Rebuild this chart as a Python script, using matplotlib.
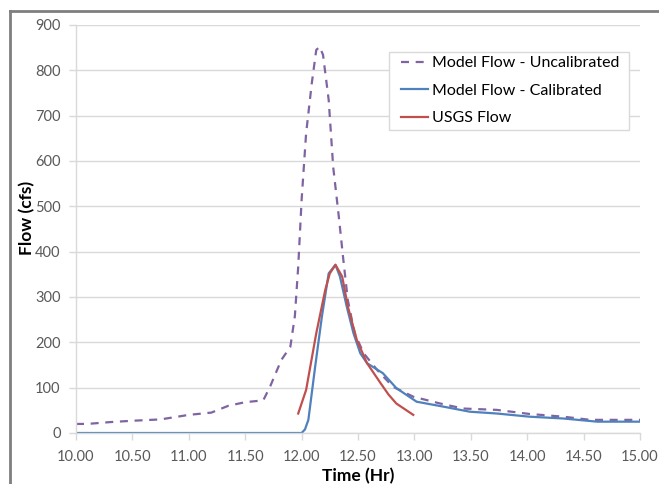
import numpy as np
import matplotlib

matplotlib.use("Agg")
import matplotlib.pyplot as plt
from matplotlib.lines import Line2D
from matplotlib.patches import Rectangle

# values (time in hours, flow in cfs)
t_uncal = [10.00, 10.10, 10.30, 10.50, 10.75, 11.00, 11.20, 11.35, 11.50, 11.66,
           11.72, 11.82, 11.90, 11.94, 11.97, 12.00, 12.04, 12.09, 12.13, 12.16,
           12.19, 12.24, 12.28, 12.33, 12.37, 12.41, 12.47, 12.55, 12.67, 12.81,
           12.99, 13.23, 13.43, 13.73, 14.02, 14.32, 14.56, 15.00]
q_uncal = [20, 20, 24, 27, 30, 40, 45, 60, 68, 72,
           102, 161, 190, 257, 367, 514, 661, 771, 845, 852,
           834, 735, 587, 477, 382, 293, 220, 176, 139, 102,
           80, 65, 54, 51, 42, 36, 29, 29]

t_cal = [10.00, 11.98, 12.00, 12.03, 12.06, 12.12, 12.18, 12.24, 12.30, 12.34,
         12.40, 12.46, 12.52, 12.58, 12.72, 12.84, 13.02, 13.26, 13.49, 13.73,
         14.02, 14.32, 14.62, 15.00]
q_cal = [0, 0, 0, 8, 29, 146, 257, 352, 371, 345,
         279, 220, 176, 154, 132, 99, 69, 58, 47, 43,
         36, 32, 25, 25]

t_usgs = [11.97, 12.04, 12.13, 12.21, 12.25, 12.30, 12.36, 12.41, 12.49, 12.58,
          12.70, 12.77, 12.84, 12.99]
q_usgs = [43, 95, 220, 316, 352, 371, 345, 279, 205, 154,
          110, 85, 65, 40]

x_ticks = [10.0, 10.5, 11.0, 11.5, 12.0, 12.5, 13.0, 13.5, 14.0, 14.5, 15.0]
y_ticks = [0, 100, 200, 300, 400, 500, 600, 700, 800, 900]

plt.rcParams["font.family"] = ["Lato", "DejaVu Sans"]

W, H = 659, 484
fig = plt.figure(figsize=(W / 100, H / 100), dpi=100)
ax = fig.add_axes([76 / W, 1 - 433 / H, 564 / W, 408 / H])

ax.plot(t_uncal, q_uncal, color="#8064a2", lw=1.6, dashes=(3.6, 3),
        label="Model Flow - Uncalibrated")
ax.plot(t_cal, q_cal, color="#4f81bd", lw=1.6, label="Model Flow - Calibrated")
ax.plot(t_usgs, q_usgs, color="#c0504d", lw=1.6, label="USGS Flow")

ax.set_xlim(10, 15)
ax.set_ylim(0, 900)
ax.set_xticks(x_ticks)
ax.set_xticklabels([f"{v:.2f}" for v in x_ticks])
ax.set_yticks(y_ticks)
ax.grid(axis="y", color="#d9d9d9", lw=1)
ax.set_axisbelow(True)
for side in ["top", "right"]:
    ax.spines[side].set_visible(False)
for side in ["left", "bottom"]:
    ax.spines[side].set_color("#d9d9d9")
    ax.spines[side].set_linewidth(1)
ax.tick_params(colors="#d9d9d9", labelcolor="#595959", labelsize=10.5, length=5, width=1)
ax.tick_params(axis="x", pad=7)
ax.tick_params(axis="y", pad=6)

ax.set_xlabel("Time (Hr)", fontsize=12.5, fontweight="bold")
ax.set_ylabel("Flow (cfs)", fontsize=12.5, fontweight="bold")
ax.xaxis.set_label_coords(0.5, -0.085)
ax.yaxis.set_label_coords((35 - 76) / 564, 0.527)

# legend without its own frame, box drawn separately to match the Excel padding
leg = ax.legend(loc="upper left", bbox_to_anchor=(401 / W, 1 - 56 / H),
                bbox_transform=fig.transFigure, fontsize=11.5, frameon=False,
                handlelength=1.7, handletextpad=0.25, borderpad=0,
                labelspacing=0.84, borderaxespad=0)
box = Rectangle((389 / W, 1 - 130 / H), 240 / W, 78 / H, transform=fig.transFigure,
                facecolor="white", edgecolor="#d9d9d9", lw=1, zorder=4)
ax.add_patch(box)
box.set_clip_on(False)
leg.set_zorder(5)

# chart-area border (top and left visible in the crop)
fig.add_artist(Line2D([9.5 / W, 1], [1 - 11 / H, 1 - 11 / H], color="#7f7f7f", lw=2))
fig.add_artist(Line2D([9.5 / W, 9.5 / W], [0, 1 - 11 / H], color="#7f7f7f", lw=2))

fig.savefig("out.png", dpi=100)
